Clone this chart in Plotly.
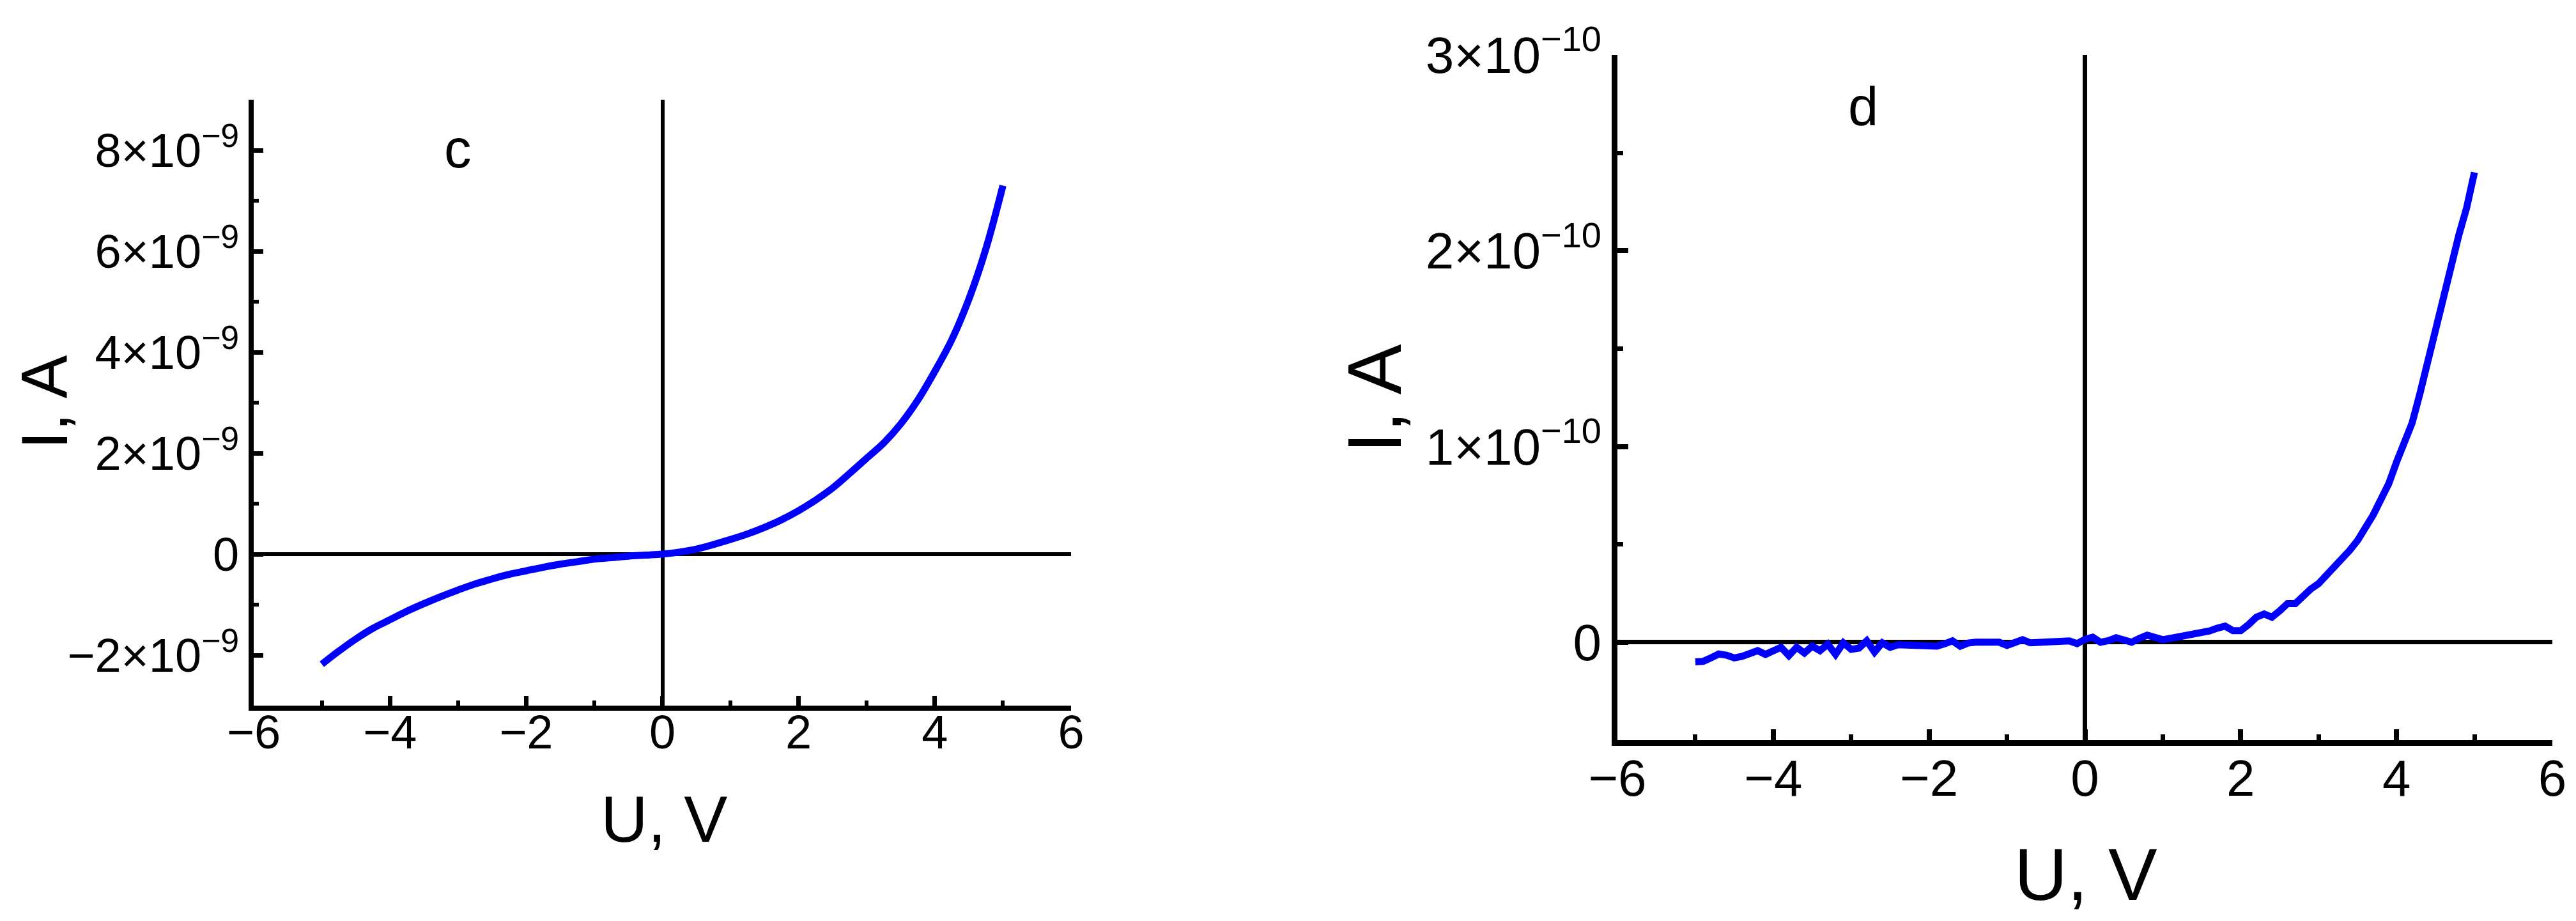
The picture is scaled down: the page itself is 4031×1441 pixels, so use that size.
import plotly.graph_objects as go

# ---------------- data ----------------
# panel c : current in units of 1e-9 A
u_c = [-5.00, -4.75, -4.50, -4.25, -4.00, -3.75, -3.50, -3.25, -3.00, -2.75,
       -2.50, -2.25, -2.00, -1.75, -1.50, -1.25, -1.00, -0.75, -0.50, -0.25,
       0.00, 0.25, 0.50, 0.75, 1.00, 1.25, 1.50, 1.75, 2.00, 2.25,
       2.50, 2.75, 3.00, 3.25, 3.50, 3.75, 4.00, 4.25, 4.50, 4.75, 5.00]
i_c_nA = [-2.18, -1.92, -1.68, -1.47, -1.30, -1.13, -0.98, -0.84, -0.71, -0.59,
          -0.49, -0.40, -0.33, -0.26, -0.20, -0.15, -0.10, -0.07, -0.04, -0.02,
          0.00, 0.04, 0.10, 0.19, 0.29, 0.40, 0.53, 0.68, 0.86, 1.07,
          1.31, 1.60, 1.90, 2.20, 2.58, 3.05, 3.62, 4.25, 5.05, 6.05, 7.30]

# panel d : current in units of 1e-10 A
u_d = [round(-5.0 + 0.1 * k, 1) for k in range(101)]
i_d_e10 = [-0.100, -0.098, -0.080, -0.060, -0.066, -0.080, -0.072, -0.058, -0.043, -0.062,
           -0.045, -0.026, -0.068, -0.026, -0.055, -0.020, -0.043, -0.010, -0.062, -0.003,
           -0.036, -0.030, 0.007, -0.050, -0.003, -0.026, -0.013, -0.015, -0.016, -0.017,
           -0.018, -0.020, -0.008, 0.007, -0.020, -0.004, 0.000, 0.000, 0.000, 0.000,
           -0.016, 0.000, 0.013, -0.003, 0.000, 0.002, 0.003, 0.005, 0.007, -0.007,
           0.015, 0.026, 0.000, 0.008, 0.023, 0.012, 0.000, 0.020, 0.036, 0.025,
           0.013, 0.020, 0.028, 0.034, 0.040, 0.046, 0.058, 0.072, 0.082, 0.059,
           0.059, 0.090, 0.128, 0.144, 0.128, 0.160, 0.197, 0.197, 0.240, 0.272,
           0.300, 0.340, 0.380, 0.420, 0.470, 0.520, 0.580, 0.650, 0.730, 0.810,
           0.920, 1.010, 1.120, 1.270, 1.430, 1.600, 1.770, 1.940, 2.080, 2.220,
           2.400]

x_ticks = [-6, -4, -2, 0, 2, 4, 6]
x_ticktext = ["\u22126", "\u22124", "\u22122", "0", "2", "4", "6"]

yc_ticks = [-2e-9, 0, 2e-9, 4e-9, 6e-9, 8e-9]
yc_ticktext = ["\u22122\u00d710<sup>\u22129</sup>", "0", "2\u00d710<sup>\u22129</sup>",
               "4\u00d710<sup>\u22129</sup>", "6\u00d710<sup>\u22129</sup>", "8\u00d710<sup>\u22129</sup>"]
yd_ticks = [0, 1e-10, 2e-10, 3e-10]
yd_ticktext = ["0", "1\u00d710<sup>\u221210</sup>", "2\u00d710<sup>\u221210</sup>",
               "3\u00d710<sup>\u221210</sup>"]

# ---------------- figure ----------------
W, H = 4031, 1441
FONT = "Liberation Sans, Arial, sans-serif"
BLUE = "#0000FF"

fig = go.Figure()
fig.add_trace(go.Scatter(x=u_c, y=[v * 1e-9 for v in i_c_nA], mode="lines",
                         line=dict(color=BLUE, width=11, shape="spline"),
                         xaxis="x", yaxis="y", showlegend=False))
fig.add_trace(go.Scatter(x=u_d, y=[v * 1e-10 for v in i_d_e10], mode="lines",
                         line=dict(color=BLUE, width=11),
                         xaxis="x2", yaxis="y2", showlegend=False))

def px_x(p):
    return p / W

def px_y(p):
    return 1 - p / H

# plot-area pixel boxes
c_box = (389, 1668, 148, 1096)
d_box = (2523, 3986, 78, 1150)

def axis_common(font_size, lw, zw):
    return dict(showline=True, linecolor="black", linewidth=lw, mirror=False,
                ticks="inside", tickcolor="black", tickwidth=lw - 1,
                showgrid=False, zeroline=True, zerolinecolor="black", zerolinewidth=zw,
                automargin=False,
                tickfont=dict(family=FONT, size=font_size, color="black"))

fig.update_layout(
    width=W, height=H, margin=dict(l=0, r=0, t=0, b=0, autoexpand=False),
    paper_bgcolor="white", plot_bgcolor="white",
    xaxis=dict(domain=[px_x(c_box[0]), px_x(c_box[1])], range=[-6, 6],
               tickvals=x_ticks, ticktext=x_ticktext, ticklen=15, ticklabelstandoff=-30,
               minor=dict(ticks="inside", dtick=1, ticklen=8, tickwidth=6, tickcolor="black"),
               anchor="y", **axis_common(74, 8, 6)),
    yaxis=dict(domain=[px_y(c_box[3]), px_y(c_box[2])], range=[-3e-9, 9e-9],
               tickvals=yc_ticks, ticktext=yc_ticktext, ticklen=15,
               minor=dict(ticks="inside", dtick=1e-9, tick0=0, ticklen=8, tickwidth=6, tickcolor="black"),
               anchor="x", **axis_common(74, 8, 6)),
    xaxis2=dict(domain=[px_x(d_box[0]), px_x(d_box[1])], range=[-6, 6],
                tickvals=x_ticks, ticktext=x_ticktext, ticklen=17, ticklabelstandoff=-18,
                minor=dict(ticks="inside", dtick=1, ticklen=9, tickwidth=7, tickcolor="black"),
                anchor="y2", **axis_common(80, 9, 7)),
    yaxis2=dict(domain=[px_y(d_box[3]), px_y(d_box[2])], range=[-0.5e-10, 3e-10],
                tickvals=yd_ticks, ticktext=yd_ticktext, ticklen=17,
                minor=dict(ticks="inside", dtick=0.5e-10, tick0=0, ticklen=9, tickwidth=7, tickcolor="black"),
                anchor="x2", **axis_common(80, 9, 7)),
)

def ann(text, x, y, size, angle=0):
    fig.add_annotation(text=text, x=px_x(x), y=px_y(y), xref="paper", yref="paper",
                       xanchor="center", yanchor="middle", showarrow=False, textangle=angle,
                       font=dict(family=FONT, size=size, color="black"))

ann("U, V", 1031, 1274, 102)
ann("I, A", 62, 622, 102, -90)
ann("c", 708, 225, 85)
ann("U, V", 3256, 1360, 115)
ann("I, A", 2143, 616, 118, -90)
ann("d", 2907, 158, 85)

fig.write_html("out.html")
